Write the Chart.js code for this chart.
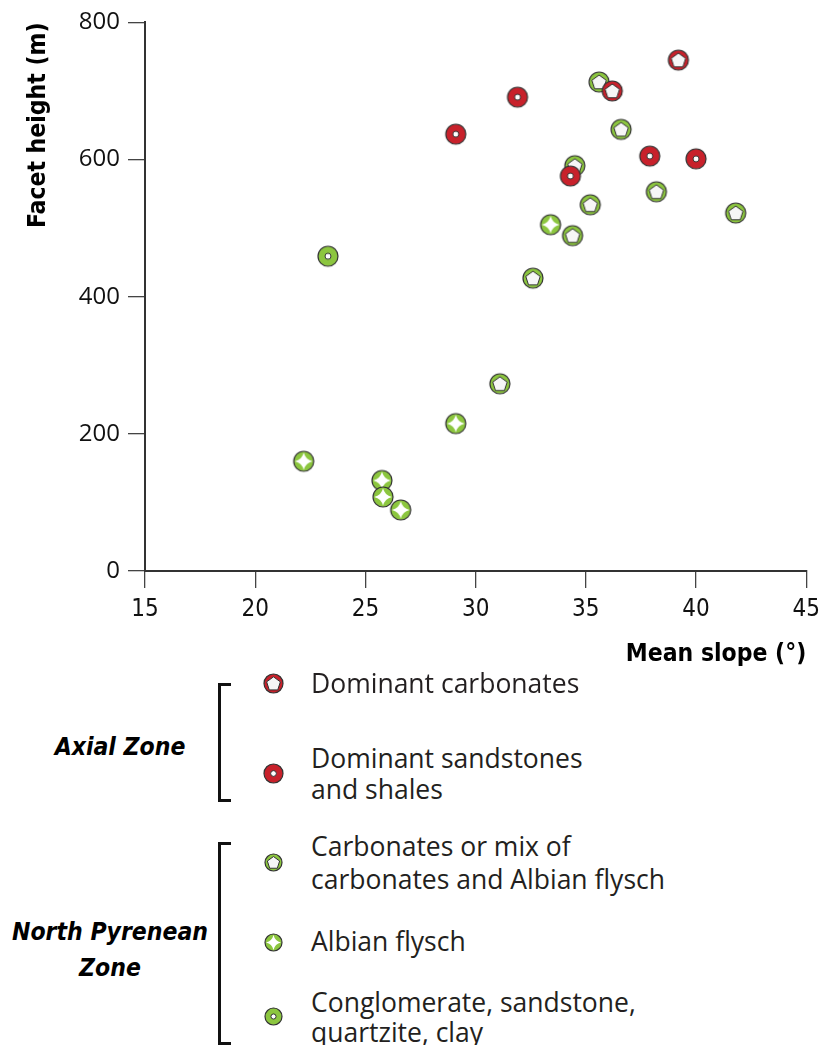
<!DOCTYPE html>
<html><head><meta charset="utf-8">
<script src="https://cdn.jsdelivr.net/npm/chart.js@4.4.0/dist/chart.umd.min.js"></script>
<style>
body{margin:0;background:#fff;width:827px;height:1045px;position:relative;overflow:hidden;font-family:'Open Sans',sans-serif;color:#231f20}
#wrap{position:absolute;left:0;top:0;width:827px;height:680px}
.t{position:absolute;white-space:nowrap;transform:translateY(-50%);font-size:26.5px;line-height:31px;left:311px}
.z{position:absolute;white-space:nowrap;font-family:'DejaVu Sans Condensed','DejaVu Sans',sans-serif;font-weight:bold;font-style:italic;font-size:24.5px;text-align:center;transform:translate(-50%,-50%);line-height:36px;color:#000}
.br{position:absolute;border:3px solid #111;border-right:none;width:13px;box-sizing:border-box;left:218px}
.mk{position:absolute}
</style></head>
<body>
<div id="wrap"><canvas id="c" width="827" height="680"></canvas></div>
<div id="legend"></div>
<script>
// ---- data ----
const seriesLabels = ["Dominant carbonates", "Dominant sandstones\nand shales", "Carbonates or mix of\ncarbonates and Albian flysch", "Albian flysch", "Conglomerate, sandstone,\nquartzite, clay"];
const zoneLabels = ["Axial Zone", "North Pyrenean\nZone"];
const axCarbX = [39.2, 36.2];
const axCarbY = [745, 700];
const axSandX = [29.1, 31.9, 34.3, 37.9, 40.0];
const axSandY = [637, 691, 576, 605, 601];
const npCarbX = [35.6, 36.6, 34.5, 38.2, 35.2, 41.8, 34.4, 32.6, 31.1];
const npCarbY = [713, 644, 591, 553, 534, 522, 489, 427, 273];
const npFlyschX = [33.4, 29.1, 22.2, 25.75, 25.8, 26.6];
const npFlyschY = [505, 215, 160, 132, 108, 89];
const npCongX = [23.3];
const npCongY = [459];
const xTicks = [15, 20, 25, 30, 35, 40, 45];
const yTicks = [0, 200, 400, 600, 800];
const xTitle = "Mean slope (°)";
const yTitle = "Facet height (m)";

const RED = '#c8212b', GREEN = '#8cc63f';
function marker(fill, inner, d){
  const s = d + 4, c = document.createElement('canvas'); c.width = c.height = s;
  const g = c.getContext('2d'); const m = s/2, r = d/2;
  g.beginPath(); g.arc(m, m, r, 0, Math.PI*2); g.fillStyle = fill; g.fill();
  g.lineWidth = 1.2; g.strokeStyle = '#333'; g.stroke();
  if (inner === 'pent'){
    const R = r*0.76; g.beginPath();
    for (let k=0;k<5;k++){ const a=-Math.PI/2+k*2*Math.PI/5; const px=m+R*Math.cos(a), py=m+R*Math.sin(a)+R*0.08; k?g.lineTo(px,py):g.moveTo(px,py); }
    g.closePath(); g.fillStyle='#f6f6f6'; g.fill(); g.lineWidth=1; g.strokeStyle='#333'; g.stroke();
  } else if (inner === 'dot'){
    g.beginPath(); g.arc(m, m, r*0.3, 0, Math.PI*2); g.fillStyle='#fff'; g.fill(); g.lineWidth=1; g.strokeStyle='#333'; g.stroke();
  } else if (inner === 'star'){
    const R = r*0.88, k = r*0.17; g.beginPath();
    g.moveTo(m, m-R); g.quadraticCurveTo(m+k, m-k, m+R, m); g.quadraticCurveTo(m+k, m+k, m, m+R);
    g.quadraticCurveTo(m-k, m+k, m-R, m); g.quadraticCurveTo(m-k, m-k, m, m-R);
    g.fillStyle='#fff'; g.fill();
  }
  return c;
}
const styles = [[RED,'pent'],[RED,'dot'],[GREEN,'pent'],[GREEN,'star'],[GREEN,'dot']];
const xs = [axCarbX, axSandX, npCarbX, npFlyschX, npCongX];
const ys = [axCarbY, axSandY, npCarbY, npFlyschY, npCongY];

const datasets = xs.map((xa, i) => ({
  label: seriesLabels[i],
  data: xa.map((x, j) => ({x, y: ys[i][j]})),
  pointStyle: marker(styles[i][0], styles[i][1], 20),
  pointRadius: 10, showLine: false
}));

const narrow = "'DejaVu Sans Condensed','DejaVu Sans',sans-serif";
new Chart(document.getElementById('c'), {
  type: 'scatter',
  data: { datasets },
  options: {
    responsive: false, animation: false, devicePixelRatio: 1,
    layout: { padding: { top: 20, right: 20, left: 0, bottom: 0 } },
    plugins: { legend: { display: false }, tooltip: { enabled: false } },
    scales: {
      x: {
        type: 'linear', min: xTicks[0], max: xTicks[xTicks.length-1],
        afterBuildTicks: s => { s.ticks = xTicks.map(v => ({value: v})); },
        afterFit: s => { s.height = 109; },
        ticks: { color: '#111', font: { family: narrow, size: 24 }, padding: 7 },
        grid: { drawOnChartArea: false, tickLength: 17, color: '#444', lineWidth: 1.3 },
        border: { display: true, color: '#333', width: 2 },
        title: { display: true, text: xTitle, align: 'end', color: '#000',
          font: { family: narrow, size: 24.5, weight: 'bold' }, padding: { top: 0, bottom: 11 } }
      },
      y: {
        type: 'linear', min: yTicks[0], max: yTicks[yTicks.length-1],
        afterBuildTicks: s => { s.ticks = yTicks.map(v => ({value: v})); },
        afterFit: s => { s.width = 145; },
        ticks: { color: '#111', font: { family: "'Open Sans',sans-serif", size: 24 }, padding: 8 },
        grid: { drawOnChartArea: false, tickLength: 17, color: '#444', lineWidth: 1.3 },
        border: { display: true, color: '#333', width: 2 },
        title: { display: true, text: yTitle, align: 'end', color: '#000',
          font: { family: narrow, size: 24.5, weight: 'bold' }, padding: { top: 24, bottom: 0 } }
      }
    }
  }
});

// ---- legend (HTML) ----
const lg = document.getElementById('legend');
function add(html){ lg.insertAdjacentHTML('beforeend', html); }
add('<div class="br" style="top:683px;height:119px"></div>');
add('<div class="br" style="top:842px;height:203px"></div>');
add('<div class="z" style="left:120px;top:747px">'+zoneLabels[0]+'</div>');
add('<div class="z" style="left:110px;top:950px">'+zoneLabels[1].replace('\n','<br>')+'</div>');
const legMarkY = [683, 773, 862, 942, 1016];
const legTextY = [683, 774, 863, 941, 1017];
const legLH = [31, 31, 33, 31, 30];
seriesLabels.forEach((lab, i) => {
  const c = marker(styles[i][0], styles[i][1], i < 2 ? 19 : 17);
  c.className = 'mk'; c.style.left = (273 - c.width/2) + 'px'; c.style.top = (legMarkY[i] - c.height/2) + 'px';
  lg.appendChild(c);
  add('<div class="t" style="top:'+legTextY[i]+'px;line-height:'+legLH[i]+'px">'+lab.replace('\n','<br>')+'</div>');
});
</script>
</body></html>
